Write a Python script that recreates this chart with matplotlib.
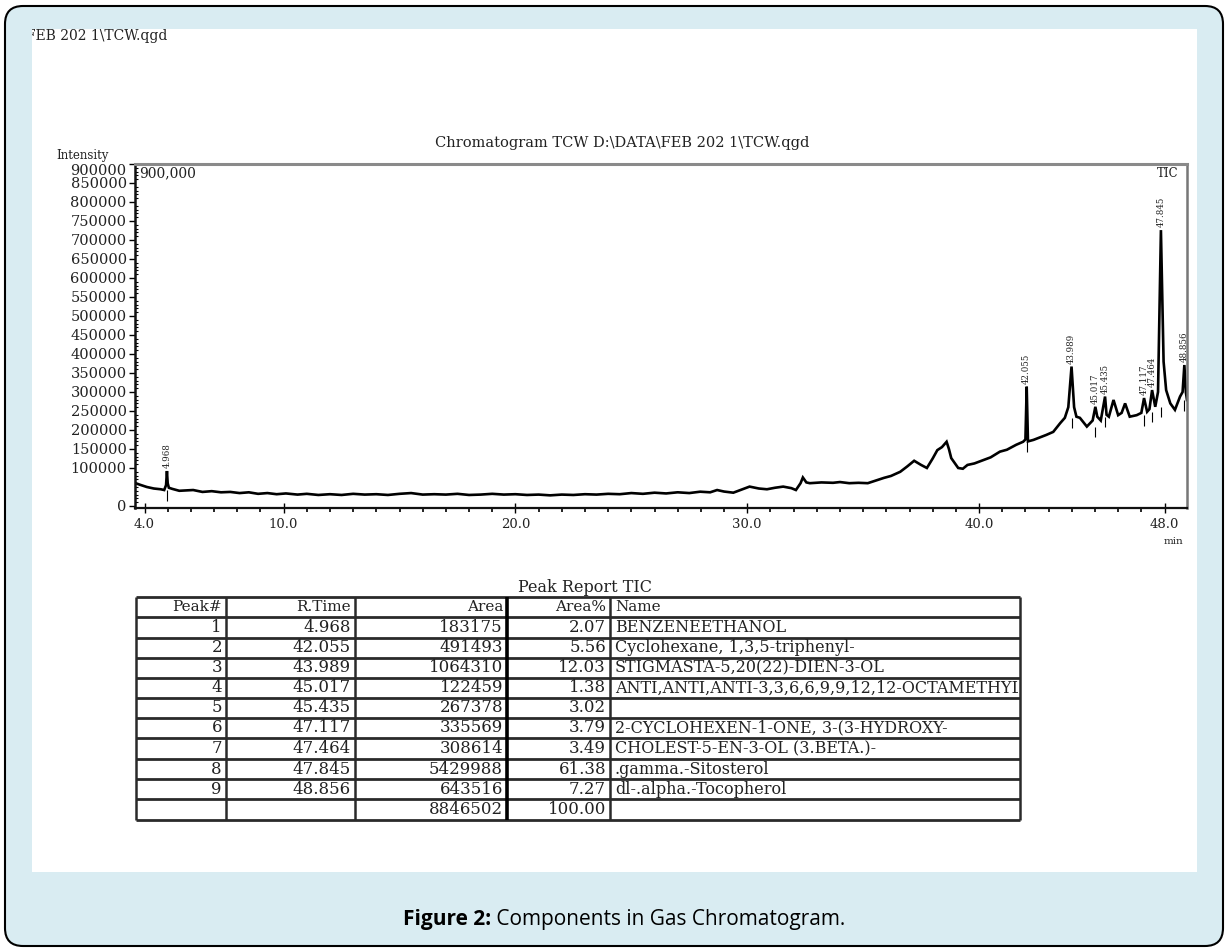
import matplotlib
matplotlib.use("Agg")
import matplotlib.pyplot as plt
from matplotlib.patches import FancyBboxPatch, Rectangle
from matplotlib.ticker import MultipleLocator, FixedLocator

W, H = 1228, 951
SERIF = "DejaVu Serif"

# ---------------- chromatogram trace ----------------
trace_time = [3.59, 3.8, 4.1, 4.4, 4.7, 4.85, 4.93, 4.968, 5.0, 5.05, 5.2, 5.5, 5.8, 6.1,
              6.5, 6.9, 7.3, 7.7, 8.1, 8.5, 8.9, 9.3, 9.7, 10.1, 10.6, 11.0, 11.5, 12.0,
              12.5, 13.0, 13.5, 14.0, 14.5, 15.0, 15.5, 16.0, 16.5, 17.0, 17.5, 18.0,
              18.5, 19.0, 19.5, 20.0, 20.5, 21.0, 21.5, 22.0, 22.5, 23.0, 23.5, 24.0,
              24.5, 25.0, 25.5, 26.0, 26.5, 27.0, 27.5, 27.97, 28.4, 28.7, 29.0, 29.4,
              29.8, 30.1, 30.5, 30.85, 31.2, 31.55, 31.9, 32.1, 32.3, 32.4, 32.55, 32.7,
              33.2, 33.7, 34.0, 34.4, 34.8, 35.2, 35.5, 35.9, 36.2, 36.6, 36.9, 37.2,
              37.5, 37.75, 38.0, 38.2, 38.4, 38.6, 38.7, 38.8, 39.1, 39.3, 39.5, 39.8,
              40.2, 40.5, 40.9, 41.2, 41.6, 41.9, 42.0, 42.055, 42.11, 42.35, 42.6, 42.9,
              43.2, 43.5, 43.7, 43.85, 43.989, 44.1, 44.2, 44.35, 44.65, 44.9, 45.017,
              45.1, 45.25, 45.435, 45.5, 45.6, 45.8, 46.0, 46.15, 46.3, 46.5, 46.8, 47.0,
              47.117, 47.25, 47.35, 47.464, 47.6, 47.72, 47.845, 47.96, 48.07, 48.25,
              48.45, 48.67, 48.78, 48.856, 48.92, 48.97]
trace_intensity = [60500, 56000, 50000, 46000, 44000, 42000, 55000, 92000, 60000, 48000,
                   45000, 40000, 41000, 42000, 37000, 39000, 36000, 37000, 34000, 36000,
                   32000, 34000, 31000, 33000, 30000, 32000, 29000, 31000, 29000, 32000,
                   30000, 31000, 29000, 32000, 34000, 30000, 31000, 30000, 32000, 29000,
                   30000, 32000, 30000, 31000, 29000, 30000, 28000, 30000, 29000, 31000,
                   30000, 32000, 31000, 34000, 32000, 35000, 33000, 36000, 34000, 37600,
                   36000, 42000, 38000, 35000, 44000, 51000, 46000, 44000, 48000, 51000,
                   47000, 42000, 60000, 75000, 62000, 60000, 62000, 61000, 63000, 60000,
                   61000, 60000, 66000, 74000, 79000, 90000, 104000, 119000, 108000, 100000,
                   125000, 147000, 155000, 169000, 150000, 126000, 100000, 98000, 108000,
                   112000, 121000, 128000, 143000, 148000, 161000, 169000, 175000, 314000,
                   170000, 174000, 180000, 187000, 195000, 218000, 232000, 260000, 367000,
                   260000, 235000, 232000, 209000, 225000, 261000, 235000, 225000, 288000,
                   240000, 235000, 279000, 239000, 245000, 270000, 235000, 239000, 245000,
                   284000, 248000, 255000, 305000, 261000, 300000, 726000, 380000, 305000,
                   270000, 253000, 288000, 300000, 371000, 300000, 279000]

# ---------------- peaks ----------------
peak_times = [4.968, 42.055, 43.989, 45.017, 45.435, 47.117, 47.464, 47.845, 48.856]
peak_apex = [92000, 314000, 367000, 261000, 288000, 284000, 305000, 726000, 371000]
peak_base = [42000, 170000, 232000, 209000, 235000, 239000, 248000, 261000, 279000]
peak_labels = ["4.968", "42.055", "43.989", "45.017", "45.435", "47.117", "47.464",
               "47.845", "48.856"]

# ---------------- axis ticks ----------------
xtick_values = [4.0, 10.0, 20.0, 30.0, 40.0, 48.0]
xtick_labels = ["4.0", "10.0", "20.0", "30.0", "40.0", "48.0"]
ytick_values = [0, 100000, 150000, 200000, 250000, 300000, 350000, 400000, 450000,
                500000, 550000, 600000, 650000, 700000, 750000, 800000, 850000, 900000]
ytick_labels = ["0", "100000", "150000", "200000", "250000", "300000", "350000",
                "400000", "450000", "500000", "550000", "600000", "650000", "700000",
                "750000", "800000", "850000", "900000"]

# ---------------- peak report table ----------------
tbl_header = ["Peak#", "R.Time", "Area", "Area%", "Name"]
tbl_peak = ["1", "2", "3", "4", "5", "6", "7", "8", "9", ""]
tbl_rtime = ["4.968", "42.055", "43.989", "45.017", "45.435", "47.117", "47.464",
             "47.845", "48.856", ""]
tbl_area = ["183175", "491493", "1064310", "122459", "267378", "335569", "308614",
            "5429988", "643516", "8846502"]
tbl_pct = ["2.07", "5.56", "12.03", "1.38", "3.02", "3.79", "3.49", "61.38", "7.27",
           "100.00"]
tbl_name = ["BENZENEETHANOL", "Cyclohexane, 1,3,5-triphenyl-",
            "STIGMASTA-5,20(22)-DIEN-3-OL", "ANTI,ANTI,ANTI-3,3,6,6,9,9,12,12-OCTAMETHYL",
            "", "2-CYCLOHEXEN-1-ONE, 3-(3-HYDROXY-", "CHOLEST-5-EN-3-OL (3.BETA.)-",
            ".gamma.-Sitosterol", "dl-.alpha.-Tocopherol", ""]

# =====================================================================
fig = plt.figure(figsize=(W / 100, H / 100), dpi=100)
fig.patch.set_facecolor("white")

bg = fig.add_axes([0, 0, 1, 1], zorder=0)
bg.set_xlim(0, W)
bg.set_ylim(H, 0)
bg.axis("off")

frame = FancyBboxPatch((5, 6), 1218, 940, boxstyle="round,pad=0,rounding_size=18",
                       facecolor="#d9ecf2", edgecolor="black", lw=1.5)
bg.add_patch(frame)
panel = Rectangle((32, 29), 1165, 843, facecolor="white", edgecolor="none")
bg.add_patch(panel)

fn = bg.text(26, 36, "FEB 202 1\\TCW.qgd", fontsize=10, family=SERIF,
             ha="left", va="center", color="#222")
fn.set_clip_on(True)
fn.set_clip_path(panel)

bg.text(622, 143, "Chromatogram TCW D:\\DATA\\FEB 202 1\\TCW.qgd", fontsize=10.5,
        family=SERIF, ha="center", va="center", color="#222")
bg.text(56, 155, "Intensity", fontsize=8.5, family=SERIF, ha="left", va="center",
        color="#222")
bg.text(1174, 542, "min", fontsize=7.5, family=SERIF, ha="center", va="center",
        color="#222")

# ---------------- chromatogram axes ----------------
ax = fig.add_axes([135 / W, 1 - 508 / H, 1052 / W, 344 / H], zorder=2)
ax.set_facecolor("none")
ax.plot(trace_time, trace_intensity, color="black", lw=1.9, solid_joinstyle="miter")
ax.vlines(peak_times, [b - 28000 for b in peak_base], peak_base, color="black", lw=0.8)
for t, a, lab in zip(peak_times, peak_apex, peak_labels):
    ax.annotate(lab, (t, a), xytext=(0, 2), textcoords="offset points", rotation=90,
                ha="center", va="bottom", fontsize=6.2, family=SERIF, color="#222")
ax.set_xlim(3.59, 48.97)
ax.set_ylim(-5300, 900000)

ax.xaxis.set_major_locator(FixedLocator(xtick_values))
ax.set_xticklabels(xtick_labels, fontsize=9.5, family=SERIF, color="#222")
ax.xaxis.set_minor_locator(MultipleLocator(1.0))
ax.yaxis.set_major_locator(FixedLocator(ytick_values))
ax.set_yticklabels(ytick_labels, fontsize=10.5, family=SERIF, color="#222")
ax.yaxis.set_minor_locator(MultipleLocator(10000))
ax.tick_params(axis="x", which="major", direction="inout", length=7, width=1, pad=4)
ax.tick_params(axis="x", which="minor", direction="out", length=3, width=1.2)
ax.tick_params(axis="y", which="major", direction="out", length=4, width=1, pad=2)
ax.tick_params(axis="y", which="minor", direction="in", length=2.5, width=0.8)
ytl = ax.get_yticklabels()
ytl[-1].set_va("top")

for side, col, lw in [("left", "#111", 1.8), ("bottom", "#111", 1.6),
                      ("top", "#8a8a8a", 2.2), ("right", "#777", 1.8)]:
    ax.spines[side].set_color(col)
    ax.spines[side].set_linewidth(lw)

ax.text(0.004, 0.972, "900,000", transform=ax.transAxes, fontsize=10, family=SERIF,
        ha="left", va="center", color="#222")
ax.text(0.992, 0.972, "TIC", transform=ax.transAxes, fontsize=8.5, family=SERIF,
        ha="right", va="center", color="#222")

# ---------------- table ----------------
bg.text(585, 587, "Peak Report TIC", fontsize=11.5, family=SERIF, ha="center",
        va="center", color="#222")
col_x = [136, 226, 355, 507, 610, 1020]
row_y = [597, 617, 638, 658, 678, 698, 718, 738, 759, 779, 799, 820]
for y in row_y:
    bg.plot([col_x[0], col_x[-1]], [y, y], color="#2a2a2a", lw=2.0,
            solid_capstyle="butt")
for i, x in enumerate(col_x):
    bg.plot([x, x], [row_y[0], row_y[-1]], color="black" if i == 3 else "#2a2a2a",
            lw=2.6 if i == 3 else 1.8, solid_capstyle="butt")

tfs = 12
name_clip = Rectangle((col_x[4], row_y[0]), col_x[5] - col_x[4] - 2, row_y[-1] - row_y[0],
                      transform=bg.transData)
cols = [tbl_peak, tbl_rtime, tbl_area, tbl_pct]
for c, hdr in enumerate(tbl_header[:4]):
    yc = (row_y[0] + row_y[1]) / 2
    bg.text(col_x[c + 1] - 4, yc, hdr, fontsize=tfs - 1, family=SERIF, ha="right",
            va="center", color="#222")
bg.text(col_x[4] + 5, (row_y[0] + row_y[1]) / 2, tbl_header[4], fontsize=tfs - 1,
        family=SERIF, ha="left", va="center", color="#222")
for r in range(len(tbl_area)):
    yc = (row_y[r + 1] + row_y[r + 2]) / 2
    for c, vals in enumerate(cols):
        bg.text(col_x[c + 1] - 4, yc, vals[r], fontsize=tfs, family=SERIF, ha="right",
                va="center", color="#222")
    t = bg.text(col_x[4] + 5, yc, tbl_name[r], fontsize=tfs - 0.5, family=SERIF,
                ha="left", va="center", color="#222")
    t.set_clip_on(True)
    t.set_clip_path(name_clip)

# ---------------- caption ----------------
r = fig.canvas.get_renderer()
c1 = bg.text(0, 920, "Figure 2:", fontsize=15, family="Open Sans", fontweight="bold",
             ha="left", va="center", color="black")
c2 = bg.text(0, 920, " Components in Gas Chromatogram.", fontsize=15,
             family="Open Sans", ha="left", va="center", color="black")
w1 = c1.get_window_extent(r).width
w2 = c2.get_window_extent(r).width
x0 = 624 - (w1 + w2) / 2
c1.set_x(x0)
c2.set_x(x0 + w1)

fig.savefig("out.png", dpi=100, facecolor=fig.get_facecolor())
